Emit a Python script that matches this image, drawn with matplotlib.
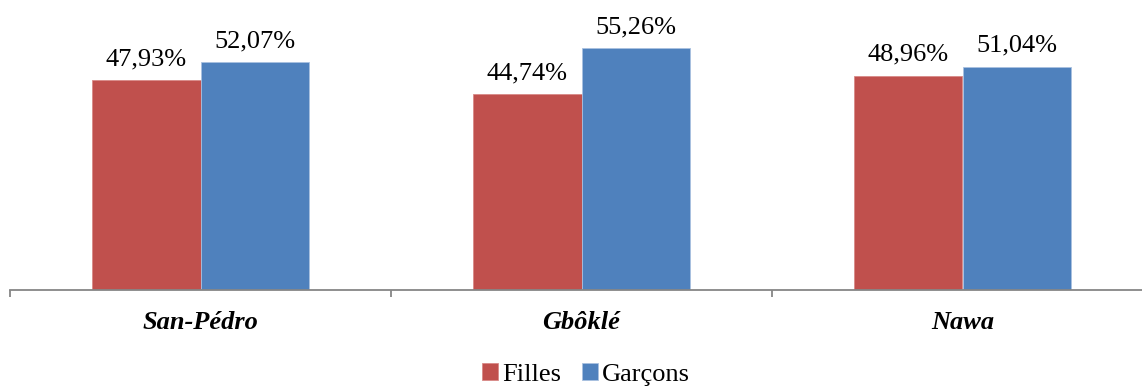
import matplotlib.pyplot as plt
import numpy as np

villes = ['San-Pédro', 'Gbôklé', 'Nawa']
filles = [47.93, 44.74, 48.96]
garcons = [52.07, 55.26, 51.04]

rouge = '#C0504D'
bleu = '#4F81BD'
gris = '#868686'

plt.rcParams['font.family'] = ['Liberation Serif', 'DejaVu Serif']

fig = plt.figure(figsize=(11.42, 3.9), dpi=100)
ax = fig.add_axes([10 / 1142, 100 / 390, 1143 / 1142, 262.7 / 390])

x = np.arange(len(villes))
largeur = 0.285
b1 = ax.bar(x - largeur / 2, filles, largeur, color=rouge, edgecolor='#D88A88', linewidth=0.6, label='Filles')
b2 = ax.bar(x + largeur / 2, garcons, largeur, color=bleu, edgecolor='#A9C1E0', linewidth=0.6, label='Garçons')

for barres in (b1, b2):
    for b in barres:
        h = b.get_height()
        ax.text(b.get_x() + b.get_width() / 2, h + 3.4, f'{h:.2f}%'.replace('.', ','),
                ha='center', va='baseline', fontsize=19)

ax.set_xlim(-0.5, 2.5)
ax.set_ylim(0, 60)
ax.set_yticks([])
for s in ('left', 'right', 'top'):
    ax.spines[s].set_visible(False)
ax.spines['bottom'].set_color(gris)
ax.spines['bottom'].set_linewidth(1.3)

ax.set_xticks([-0.5, 0.5, 1.5, 2.5])
ax.set_xticklabels([])
ax.tick_params(axis='x', which='major', length=5, width=1.3, color=gris)
ax.set_xticks(x, minor=True)
ax.set_xticklabels(villes, minor=True, fontsize=19, fontweight='bold', fontstyle='italic')
ax.tick_params(axis='x', which='minor', length=0, pad=15)

fig.legend(loc='lower center', bbox_to_anchor=(0.513, -0.05), ncol=2, frameon=False,
           fontsize=19, handlelength=0.6, handleheight=0.6, handletextpad=0.15,
           columnspacing=0.8)

fig.savefig('out.png', dpi=100)
